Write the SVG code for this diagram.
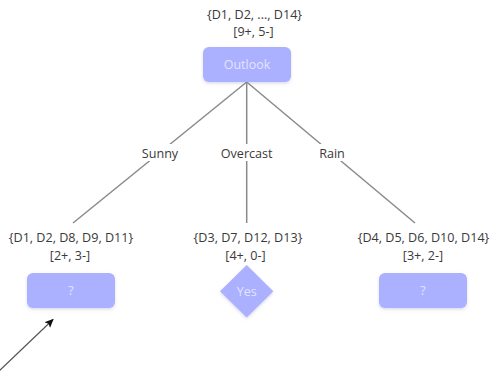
<svg xmlns="http://www.w3.org/2000/svg" width="492" height="385" viewBox="0 0 492 385">
  <style>
    .lbl { font-family: "Open Sans", "Noto Sans", "Liberation Sans", sans-serif; font-size: 12.6px; fill: #3a3a3a; text-anchor: middle; }
    .nodetxt { font-family: "Open Sans", "Noto Sans", "Liberation Sans", sans-serif; font-size: 12.5px; fill: #e2e4ff; text-anchor: middle; }
    .box { fill: #abb0ff; filter: url(#shadow); }
    .edge { stroke: #8a8a8a; stroke-width: 1.5; fill: none; }
    .edgebg { fill: #ffffff; }
  </style>
  <defs>
    <filter id="shadow" x="-20%" y="-20%" width="140%" height="160%">
      <feDropShadow dx="0" dy="1.5" stdDeviation="1.5" flood-color="#8088c0" flood-opacity="0.3"/>
    </filter>
    <marker id="arrowhead" markerWidth="10" markerHeight="10" refX="8" refY="5" orient="auto" markerUnits="userSpaceOnUse">
      <path d="M0,1 L9,5 L0,9 L2,5 Z" fill="#111111"/>
    </marker>
  </defs>

  <!-- connectors -->
  <g id="connectors">
    <line class="edge" x1="246.7" y1="82" x2="73" y2="223"/>
    <line class="edge" x1="246.7" y1="82" x2="246.7" y2="223"/>
    <line class="edge" x1="246.7" y1="82" x2="415" y2="223"/>
    <rect class="edgebg" x="138" y="144" width="44" height="17"/>
    <text class="lbl" x="160" y="157.5">Sunny</text>
    <rect class="edgebg" x="218" y="144" width="57" height="17"/>
    <text class="lbl" x="246.7" y="157.5">Overcast</text>
    <rect class="edgebg" x="316" y="144" width="32" height="17"/>
    <text class="lbl" x="332" y="157.5">Rain</text>
    <line x1="-2" y1="372" x2="53" y2="319.5" stroke="#555555" stroke-width="1.2" marker-end="url(#arrowhead)"/>
  </g>

  <!-- root node -->
  <g id="outlook">
    <text class="lbl" x="254.5" y="18.5">{D1, D2, ..., D14}</text>
    <text class="lbl" x="253.5" y="35.5">[9+, 5-]</text>
    <rect class="box" x="203" y="47" width="88" height="35" rx="6"/>
    <text class="nodetxt" x="247" y="68.5">Outlook</text>
  </g>

  <!-- sunny branch -->
  <g id="sunny-node">
    <text class="lbl" x="71" y="242">{D1, D2, D8, D9, D11}</text>
    <text class="lbl" x="70" y="259.5">[2+, 3-]</text>
    <rect class="box" x="27" y="273" width="88" height="35" rx="6"/>
    <text class="nodetxt" x="71" y="294.5">?</text>
  </g>

  <!-- overcast branch -->
  <g id="overcast-node">
    <text class="lbl" x="248" y="242">{D3, D7, D12, D13}</text>
    <text class="lbl" x="245.5" y="259.5">[4+, 0-]</text>
    <polygon class="box" points="246.7,265 273.3,291.2 246.7,317.4 220,291.2"/>
    <text class="nodetxt" x="246.7" y="295.5">Yes</text>
  </g>

  <!-- rain branch -->
  <g id="rain-node">
    <text class="lbl" x="423.5" y="242">{D4, D5, D6, D10, D14}</text>
    <text class="lbl" x="423" y="259.5">[3+, 2-]</text>
    <rect class="box" x="379" y="273" width="88" height="35" rx="6"/>
    <text class="nodetxt" x="423" y="294.5">?</text>
  </g>
</svg>
